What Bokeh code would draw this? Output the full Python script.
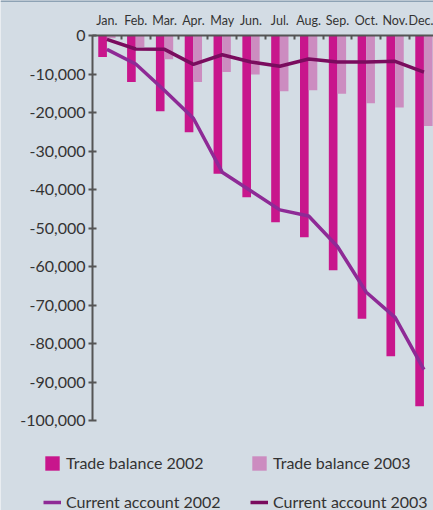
from bokeh.plotting import figure
from bokeh.models import (Range1d, FixedTicker, NumeralTickFormatter, Legend,
                          LegendItem, ColumnDataSource, Span)
from bokeh.transform import dodge
from bokeh.embed import file_html
from bokeh.resources import INLINE

months = ["Jan.", "Feb.", "Mar.", "Apr.", "May", "Jun.", "Jul.", "Aug.",
          "Sep.", "Oct.", "Nov.", "Dec."]
trade_2002 = [-5600, -12100, -19700, -25100, -35900, -42000, -48500, -52400,
              -61000, -73600, -83300, -96300]
trade_2003 = [-700, -3000, -6200, -12100, -9500, -10100, -14500, -14200,
              -15100, -17600, -18700, -23500]
current_2002 = [-3600, -7400, -14300, -21500, -35500, -40400, -45300, -46900,
                -54800, -66700, -73200, -86800]
current_2003 = [-1000, -3500, -3600, -7500, -5000, -6900, -8000, -6100,
                -6900, -6900, -6700, -9500]
y_ticks = [0, -10000, -20000, -30000, -40000, -50000, -60000, -70000,
           -80000, -90000, -100000]

centers = [i + 0.5 for i in range(len(months))]
src = ColumnDataSource(dict(x=centers, t02=trade_2002, t03=trade_2003,
                            c02=current_2002, c03=current_2003))

BG = "#d3dce4"
FONT = "Lato"
TXT = "#333333"
AX = "#555555"
C_T02 = "#c8168c"
C_T03 = "#cc8cc0"
C_C02 = "#8e2a96"
C_C03 = "#7a0c5e"

# frame spans the whole canvas; one month = 28.82 px, y axis at 92 px,
# zero line at 35 px, 385 px per 100,000
PX_MONTH = 28.82
X0 = -92 / PX_MONTH
X1 = (433 - 92) / PX_MONTH
Y0 = -100000 * 475 / 385
Y1 = 100000 * 35 / 385

p = figure(width=433, height=510, output_backend="svg", toolbar_location=None,
           x_range=Range1d(X0, X1), y_range=Range1d(Y0, Y1),
           x_axis_location="above",
           min_border_left=0, min_border_right=0, min_border_top=0,
           min_border_bottom=0)
p.background_fill_color = BG
p.border_fill_color = BG
p.outline_line_color = None
p.grid.visible = False

b02 = p.vbar(x=dodge("x", -0.15, range=p.x_range), top=0, bottom="t02",
             width=0.3, source=src, fill_color=C_T02, line_color=None)
b03 = p.vbar(x=dodge("x", 0.15, range=p.x_range), top=0, bottom="t03",
             width=0.3, source=src, fill_color=C_T03, line_color=None)
l02 = p.line(x="x", y="c02", source=src, line_color=C_C02, line_width=3.5)
l03 = p.line(x="x", y="c03", source=src, line_color=C_C03, line_width=3.5)

p.add_layout(Span(location=Y1, dimension="width", line_color="#8da2b4",
                  line_width=3))

xa = p.xaxis[0]
xa.fixed_location = 0
xa.ticker = FixedTicker(ticks=centers, minor_ticks=list(range(1, 12)))
xa.major_label_overrides = {c: m for c, m in zip(centers, months)}
xa.bounds = (0, X1)
xa.major_tick_in = 0
xa.major_tick_out = 0
xa.minor_tick_in = 4
xa.minor_tick_out = 0
xa.minor_tick_line_color = AX
xa.minor_tick_line_width = 2
xa.axis_line_color = AX
xa.axis_line_width = 2
xa.major_label_text_font = FONT
xa.major_label_text_font_size = "12.5px"
xa.major_label_text_color = TXT
xa.major_label_standoff = 8

ya = p.yaxis[0]
ya.fixed_location = 0
ya.bounds = (-100000, 0)
ya.ticker = FixedTicker(ticks=y_ticks, minor_ticks=[])
ya.formatter = NumeralTickFormatter(format="0,0")
ya.major_tick_in = 4
ya.major_tick_out = 4
ya.major_tick_line_color = AX
ya.major_tick_line_width = 2
ya.axis_line_color = AX
ya.axis_line_width = 2
ya.major_label_text_font = FONT
ya.major_label_text_font_size = "16px"
ya.major_label_text_color = TXT
ya.major_label_standoff = 3

legend = Legend(items=[
    LegendItem(label="Trade balance 2002", renderers=[b02]),
    LegendItem(label="Current account 2002", renderers=[l02]),
    LegendItem(label="Trade balance 2003", renderers=[b03]),
    LegendItem(label="Current account 2003", renderers=[l03]),
], location=(43, -1), ncols=2)
legend.background_fill_alpha = 0
legend.border_line_alpha = 0
legend.padding = 0
legend.margin = 0
legend.glyph_width = 18
legend.glyph_height = 18
legend.label_height = 18
legend.label_standoff = 5
legend.spacing = 20
legend.label_width = 164
legend.label_text_font = FONT
legend.label_text_font_size = "16px"
legend.label_text_color = TXT
p.add_layout(legend, "center")

open("out.html", "w").write(file_html(p, INLINE))
